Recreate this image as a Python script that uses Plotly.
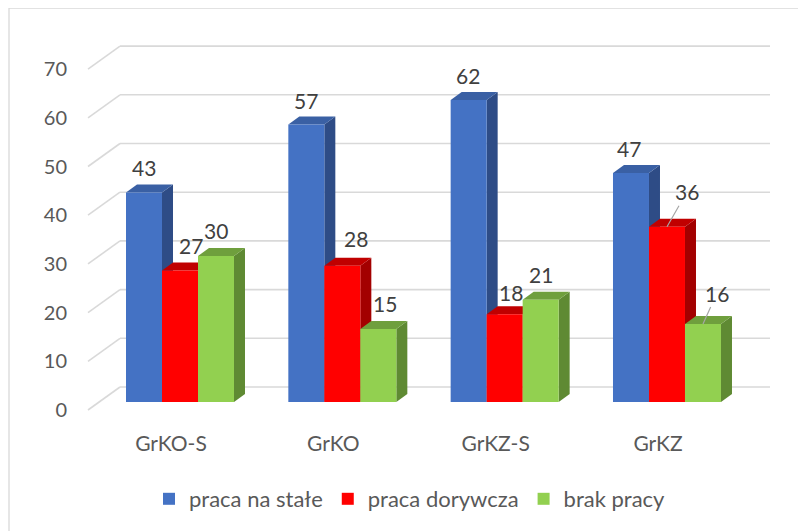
import plotly.graph_objects as go

# ---------------- data ----------------
categories = ["GrKO-S", "GrKO", "GrKZ-S", "GrKZ"]
series_names = ["praca na stałe", "praca dorywcza", "brak pracy"]
praca_na_stale = [43, 57, 62, 47]
praca_dorywcza = [27, 28, 18, 36]
brak_pracy = [30, 15, 21, 16]
y_ticks = [0, 10, 20, 30, 40, 50, 60, 70]

series = [praca_na_stale, praca_dorywcza, brak_pracy]

# ---------------- styles ----------------
front_colors = ["#4472C4", "#FF0000", "#92D050"]
top_colors = ["#3A60A4", "#C00000", "#6F9F3D"]
side_colors = ["#2E4C86", "#A30000", "#5F8A33"]
grid_color = "#D9D9D9"
axis_text = "#595959"
label_text = "#404040"
FONT = "Lato"

# label offsets in px (xshift, yshift) or arrow (ax, ay)
label_style = [
    [("s", 0, 25), ("s", 0, 24), ("s", -1, 25), ("s", -2, 25)],
    [("s", 11, 25), ("s", 14, 27), ("s", 6, 22), ("a", 20, -35)],
    [("s", 0, 25), ("s", 7, 25), ("s", 0, 25), ("a", 14, -31)],
]

# ---------------- geometry (screen pixel layout -> data units) ----------------
W, H = 806, 531
OFF = 8  # page body margin of the browser
plot_left, plot_right, plot_top, plot_bottom = 80, 790, 17, 417  # screen px
L = plot_left - OFF
T = plot_top - OFF
R = W - (plot_right - OFF)
B = H - (plot_bottom - OFF)
plot_w = plot_right - plot_left
plot_h = plot_bottom - plot_top
px_per_x = 162.33
x_center0 = 180.0
px_per_y = 4.87
y_zero = 402.0


def xd(px):
    return (px - x_center0) / px_per_x


def yd(py):
    return (y_zero - py) / px_per_y


def xp(px):
    return (px - plot_left) / plot_w


def yp(py):
    return (plot_bottom - py) / plot_h


x_range = [xd(plot_left), xd(plot_right)]
y_range = [yd(plot_bottom), yd(plot_top)]

bar_w = 36 / px_per_x
dx = 11 / px_per_x
dy = 8 / px_per_y
front_floor = 8 / px_per_y
back_wall = 15 / px_per_y
grid_front_x = xd(88)
grid_back_x = xd(120)
grid_end_x = xd(770)

xpos = list(range(len(categories)))

fig = go.Figure()
for i, (name, vals) in enumerate(zip(series_names, series)):
    fig.add_trace(go.Bar(
        x=xpos, y=vals, name=name,
        width=bar_w, offset=(i - 1.5) * bar_w,
        marker=dict(color=front_colors[i], line=dict(width=0)),
        hoverinfo="name+y",
    ))

shapes = []
# gridlines (3D walls)
for v in y_ticks:
    shapes.append(dict(type="line", xref="x", yref="y", layer="below",
                       x0=grid_front_x, y0=v - front_floor,
                       x1=grid_back_x, y1=v + back_wall,
                       line=dict(color=grid_color, width=1.6)))
    shapes.append(dict(type="line", xref="x", yref="y", layer="below",
                       x0=grid_back_x, y0=v + back_wall,
                       x1=grid_end_x, y1=v + back_wall,
                       line=dict(color=grid_color, width=1.6)))

# 3D side and top faces of bars
for j in xpos:
    for i in range(len(series)):
        v = series[i][j]
        x0 = j + (i - 1.5) * bar_w
        x1 = x0 + bar_w
        side = (f"M {x1},0 L {x1 + dx},{dy} L {x1 + dx},{v + dy} "
                f"L {x1},{v} Z")
        top = (f"M {x0},{v} L {x0 + dx},{v + dy} L {x1 + dx},{v + dy} "
               f"L {x1},{v} Z")
        shapes.append(dict(type="path", path=side, xref="x", yref="y",
                           layer="below", fillcolor=side_colors[i],
                           line=dict(width=0)))
        shapes.append(dict(type="path", path=top, xref="x", yref="y",
                           layer="below", fillcolor=top_colors[i],
                           line=dict(width=0)))

# outer chart border
shapes.append(dict(type="rect", xref="paper", yref="paper",
                   x0=xp(9), x1=xp(W + 20), y0=yp(H + 20), y1=yp(8),
                   line=dict(color="#D9D9D9", width=1.3),
                   fillcolor="rgba(0,0,0,0)", layer="below"))

annotations = []
for i in range(len(series)):
    for j in xpos:
        v = series[i][j]
        cx = j + (i - 1) * bar_w
        kind, a, b = label_style[i][j]
        if kind == "s":
            annotations.append(dict(x=cx, y=v, xref="x", yref="y",
                                    text=str(v), showarrow=False,
                                    xshift=a, yshift=b,
                                    font=dict(family=FONT, size=21,
                                              color=label_text)))
        else:
            annotations.append(dict(x=cx, y=v, xref="x", yref="y",
                                    text=str(v), showarrow=True,
                                    ax=a, ay=b, arrowhead=0,
                                    arrowwidth=1.2, arrowcolor="#A6A6A6",
                                    standoff=0,
                                    font=dict(family=FONT, size=21,
                                              color=label_text)))

fig.update_layout(
    width=W, height=H,
    margin=dict(l=L, r=R, t=T, b=B, pad=0, autoexpand=False),
    paper_bgcolor="white", plot_bgcolor="white",
    barmode="overlay",
    font=dict(family=FONT, size=20, color=axis_text),
    shapes=shapes,
    annotations=annotations,
    showlegend=True,
    legend=dict(orientation="h", x=xp(149), xanchor="left",
                y=yp(499), yanchor="middle",
                font=dict(family=FONT, size=22, color=axis_text),
                bgcolor="rgba(0,0,0,0)", traceorder="normal"),
    xaxis=dict(range=x_range, tickvals=xpos, ticktext=categories,
               showgrid=False, zeroline=False, showline=False, ticks="",
               ticklabelshift=-9, ticklabelstandoff=12,
               tickfont=dict(family=FONT, size=21, color=axis_text),
               fixedrange=True),
    yaxis=dict(range=y_range, tickvals=y_ticks,
               showgrid=False, zeroline=False, showline=False, ticks="",
               ticklabelshift=8, ticklabelstandoff=12,
               tickfont=dict(family=FONT, size=20, color=axis_text),
               fixedrange=True),
)

fig.write_html("out.html")
